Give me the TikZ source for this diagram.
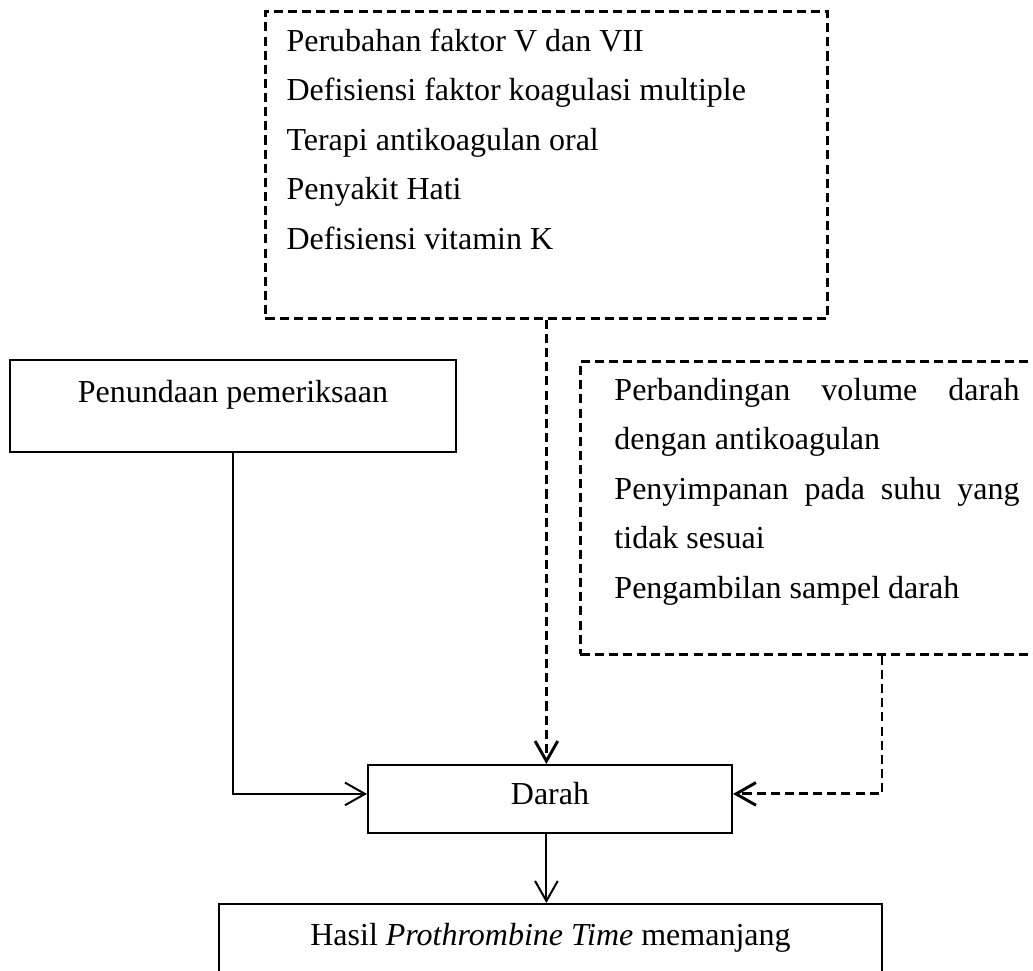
\documentclass[tikz,border=0pt]{standalone}
\usepackage{fontspec}
\setmainfont{Liberation Serif}
\usetikzlibrary{arrows.meta,calc,positioning}

\begin{document}
\begin{tikzpicture}[x=0.375pt,y=-0.375pt,
  font=\fontsize{12}{18.56}\selectfont,
  kotak/.style={draw,line width=0.75pt,inner ysep=0pt},
  kotakputus/.style={draw,line width=1.1pt,dash pattern=on 3.4pt off 1.9pt,inner ysep=0pt},
  panah/.style={line width=0.75pt,-{Straight Barb[length=7.5pt,width=8.5pt]}},
  panahputus/.style={line width=1.1pt,dash pattern=on 3.4pt off 1.9pt,-{Straight Barb[length=7.5pt,width=8.5pt]}}]
\useasboundingbox (0,0) rectangle (1033,971);

\node[kotakputus,anchor=north west,inner xsep=7.9pt,text width=194.9pt,align=flush left,
  text height=15pt,text depth=100.1pt] (faktorpasien) at (264,10)
{Perubahan faktor V dan VII\\
Defisiensi faktor koagulasi multiple\\
Terapi antikoagulan oral\\
Penyakit Hati\\
Defisiensi vitamin K};

\node[kotak,anchor=north west,minimum width=167.25pt,inner xsep=0pt,
  text height=16.1pt,text depth=18.4pt] (penundaan) at (9,359) {Penundaan pemeriksaan};

\node[kotakputus,anchor=north west,inner xsep=12.75pt,text width=151.9pt,align=justify,
  text height=14.6pt,text depth=95.25pt] (faktorpra) at (579,360)
{\hyphenpenalty=10000\tolerance=9999
Perbandingan volume darah dengan antikoagulan\par
Penyimpanan pada suhu yang tidak sesuai\par
Pengambilan sampel darah};

\node[kotak,anchor=north,minimum width=136.5pt,inner xsep=0pt,
  text height=15pt,text depth=10.5pt] (darah) at (550,764) {Darah};

\node[kotak,anchor=north,minimum width=248.6pt,inner xsep=0pt,
  text height=15.4pt,text depth=20pt] (hasil) at (550.5,903) {Hasil \textit{Prothrombine Time} memanjang};

% panah
\draw[panahputus] (faktorpasien.south) -- (faktorpasien.south |- darah.north);
\draw[panahputus] ($(faktorpra.south west)+(303,0)$) |- ([yshift=1.9pt]darah.east);
\draw[panah] (penundaan.south) |- ([yshift=1.9pt]darah.west);
\draw[panah] (darah.south -| faktorpasien.south) -- (hasil.north -| faktorpasien.south);
\end{tikzpicture}
\end{document}
